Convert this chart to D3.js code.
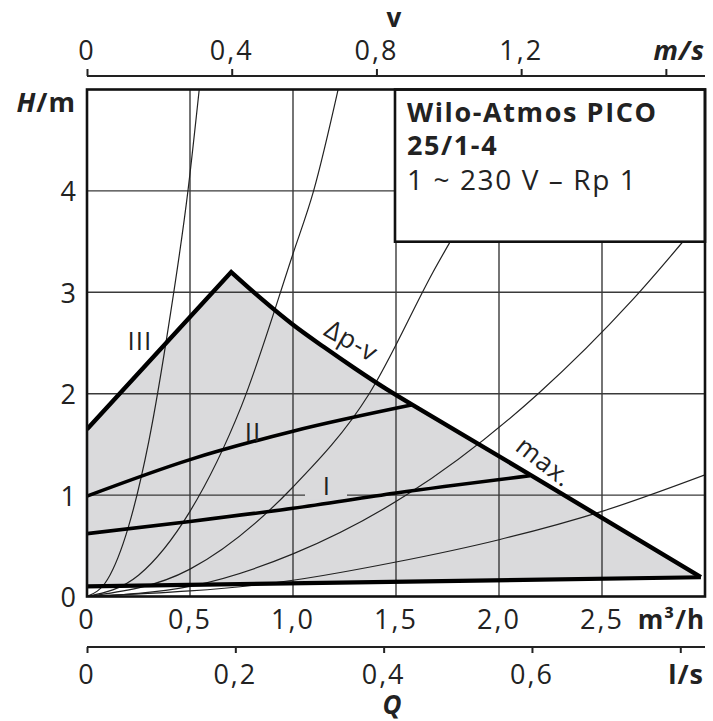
<!DOCTYPE html>
<html><head><meta charset="utf-8">
<script src="https://cdn.jsdelivr.net/npm/d3@7"></script>
<style>
html,body{margin:0;padding:0;background:#fff;}
svg{display:block;}
text{font-family:"Open Sans",sans-serif;fill:#222;}
</style></head>
<body>
<svg id="chart" width="713" height="721"></svg>
<script>
// ---------- data ----------
// flow Q in m³/h, head H in m
const qTicks = [0, 0.5, 1, 1.5, 2, 2.5];
const qTickLabels = ["0", "0,5", "1,0", "1,5", "2,0", "2,5"];
const hTicks = [0, 1, 2, 3, 4];
const hTickLabels = ["0", "1", "2", "3", "4"];
const vTicks = [0, 0.4, 0.8, 1.2, 1.6];          // m/s
const vTickLabels = ["0", "0,4", "0,8", "1,2", ""];
const lsTicks = [0, 0.2, 0.4, 0.6, 0.8];         // l/s
const lsTickLabels = ["0", "0,2", "0,4", "0,6", ""];
const qMax = 3, hMax = 5;
const vMaxAtQ = 2.81;            // m³/h corresponding to 1.6 m/s on the top scale
const lsToM3h = 3.6;

// thick operating curves
const curveIII   = [[0, 1.65], [0.70, 3.20]];
const curveDpv   = [[0.70, 3.20], [0.85, 2.93], [1.0, 2.68], [1.15, 2.46], [1.3, 2.25], [1.45, 2.05], [1.58, 1.89]];
const curveMax   = [[1.58, 1.89], [2.16, 1.19], [2.98, 0.19]];
const curveII    = [[0, 0.99], [0.5, 1.35], [1.0, 1.63], [1.58, 1.89]];
const curveI     = [[0, 0.62], [0.5, 0.74], [1.0, 0.87], [1.5, 1.02], [2.15, 1.19]];
const curveMin   = [[0, 0.10], [2.98, 0.19]];

// thin system curves
const sysA = [[0, 0], [0.1, 0.17], [0.2, 0.68], [0.3, 1.53], [0.4, 2.72], [0.49, 4.0], [0.55, 5.1]];
const sysB = [[0, 0], [0.25, 0.21], [0.5, 0.84], [0.75, 1.88], [1.0, 3.38], [1.1, 4.0], [1.23, 5.1]];
const sysC = [[0, 0], [0.5, 0.27], [1.0, 1.08], [1.37, 2.0], [1.68, 3.2], [1.9, 4.0], [2.15, 5.1]];
const sysD = [[0, 0], [0.5, 0.1], [1.0, 0.42], [1.55, 1.0], [2.19, 2.0], [2.65, 2.93], [3.0, 3.76]];
const sysE = [[0, 0], [1.0, 0.16], [1.5, 0.34], [2.0, 0.56], [2.5, 0.84], [3.0, 1.2]];
const systemCurves = [sysA, sysB, sysC, sysD, sysE];

const titleLines = ["Wilo-Atmos PICO", "25/1-4", "1 ~ 230 V – Rp 1"];

// ---------- layout ----------
const L = 87, R = 705, T = 89.5, B = 596.5;
const svg = d3.select("#chart");
const x = d3.scaleLinear().domain([0, qMax]).range([L, R]);
const y = d3.scaleLinear().domain([0, hMax]).range([B, T]);
const xv = d3.scaleLinear().domain([0, 1.6]).range([L, x(vMaxAtQ)]);
const xl = d3.scaleLinear().domain([0, 0.8]).range([L, x(0.8 * lsToM3h)]);

const line = d3.line().x(d => x(d[0])).y(d => y(d[1]));
const smooth = d3.line().x(d => x(d[0])).y(d => y(d[1])).curve(d3.curveMonotoneX);
const cont = s => "L" + s.slice(1);   // continue a path instead of moving
const pt = d => `${x(d[0])},${y(d[1])}`;

svg.append("defs").append("clipPath").attr("id", "plotclip")
  .append("rect").attr("x", L).attr("y", T).attr("width", R - L).attr("height", B - T);

const plot = svg.append("g").attr("clip-path", "url(#plotclip)");

// outline III -> Δp-v -> max (sharp corners)
const outline = line(curveIII) + cont(smooth(curveDpv)) + cont(line(curveMax));

// grey operating area (closed along the minimum line)
plot.append("path")
  .attr("d", "M" + pt(curveMin[0]) + cont(outline) + "L" + pt(curveMin[1]) + "Z")
  .attr("fill", "#dadadc");

// grid
plot.append("g").selectAll("line").data(qTicks.slice(1)).join("line")
  .attr("x1", d => x(d)).attr("x2", d => x(d)).attr("y1", T).attr("y2", B)
  .attr("stroke", "#3a3a3a").attr("stroke-width", 1.4);
plot.append("g").selectAll("line").data(hTicks.slice(1)).join("line")
  .attr("y1", d => y(d)).attr("y2", d => y(d)).attr("x1", L).attr("x2", R)
  .attr("stroke", "#3a3a3a").attr("stroke-width", 1.4);
// gap in grid line around label "I"
plot.append("rect").attr("x", 305).attr("y", y(1) - 4).attr("width", 42).attr("height", 8).attr("fill", "#dadadc");

// system curves
plot.append("g").selectAll("path").data(systemCurves).join("path")
  .attr("d", d => smooth(d)).attr("fill", "none").attr("stroke", "#222").attr("stroke-width", 1.2);

// thick curves
const thick = plot.append("g").attr("fill", "none").attr("stroke", "#000");
thick.append("path").attr("d", smooth(curveII)).attr("stroke-width", 3.6);
thick.append("path").attr("d", smooth(curveI)).attr("stroke-width", 3.6);
thick.append("path").attr("d", line(curveMin)).attr("stroke-width", 4.2);
thick.append("path").attr("d", outline + "L" + pt(curveMin[1]))
  .attr("stroke-width", 4.4).attr("stroke-linejoin", "miter").attr("stroke-miterlimit", 10);

// curve labels
const lab = svg.append("g").style("font-size", "26px").style("letter-spacing", "1px");
lab.append("text").attr("x", 140).attr("y", 340).attr("text-anchor", "middle").attr("dominant-baseline", "central").text("III");
lab.append("text").attr("x", 253).attr("y", 431).attr("text-anchor", "middle").attr("dominant-baseline", "central").text("II");
lab.append("text").attr("x", 327).attr("y", 485).attr("text-anchor", "middle").attr("dominant-baseline", "central").text("I");
lab.append("text").attr("transform", "translate(352,340) rotate(30)").attr("text-anchor", "middle").attr("dominant-baseline", "central").text("Δp-v");
lab.append("text").attr("transform", "translate(545,461) rotate(38)").attr("text-anchor", "middle").attr("dominant-baseline", "central").text("max.");

// legend box
const box = svg.append("g");
box.append("rect").attr("x", 395).attr("y", T).attr("width", R - 395).attr("height", 241.7 - T)
  .attr("fill", "#fff").attr("stroke", "#111").attr("stroke-width", 2.6);
box.selectAll("text").data(titleLines).join("text")
  .attr("x", 407).attr("y", (d, i) => [122, 155, 190][i])
  .style("font-size", (d, i) => i < 2 ? "27px" : "28px")
  .style("letter-spacing", "1.6px")
  .style("font-weight", (d, i) => i < 2 ? 700 : 400)
  .text(d => d);

// plot frame
svg.append("rect").attr("x", L).attr("y", T).attr("width", R - L).attr("height", B - T)
  .attr("fill", "none").attr("stroke", "#111").attr("stroke-width", 2.6);

// ---------- axes ----------
const tickFont = "27px", tickSpace = "2px";
// left H labels
svg.append("g").selectAll("text").data(hTicks).join("text")
  .attr("x", 76).attr("y", d => y(d)).attr("text-anchor", "end").attr("dominant-baseline", "central")
  .style("font-size", tickFont).text((d, i) => hTickLabels[i]);
const hm = svg.append("text").attr("x", 76).attr("y", 112).attr("text-anchor", "end")
  .style("font-size", "27px").style("font-weight", 700).style("letter-spacing", "1px");
hm.append("tspan").style("font-style", "italic").text("H");
hm.append("tspan").text("/m");

// bottom Q m³/h labels
svg.append("g").selectAll("text").data(qTicks).join("text")
  .attr("x", d => x(d)).attr("y", 629).attr("text-anchor", "middle")
  .style("font-size", tickFont).style("letter-spacing", tickSpace).text((d, i) => qTickLabels[i]);
svg.append("text").attr("x", 705).attr("y", 629).attr("text-anchor", "end")
  .style("font-size", "26px").style("font-weight", 700).style("letter-spacing", "1px").text("m³/h");

// l/s axis
const axLs = svg.append("g").attr("transform", "translate(0,647)")
  .call(d3.axisBottom(xl).tickValues(lsTicks).tickSize(6).tickSizeOuter(0).tickFormat(""));
axLs.select(".domain").attr("d", `M${L},0H${R}`).attr("stroke", "#222").attr("stroke-width", 2.2);
axLs.selectAll(".tick line").attr("stroke", "#222").attr("stroke-width", 2);
svg.append("g").selectAll("text").data(lsTicks).join("text")
  .attr("x", d => xl(d)).attr("y", 684).attr("text-anchor", "middle")
  .style("font-size", tickFont).style("letter-spacing", tickSpace).text((d, i) => lsTickLabels[i]);
svg.append("text").attr("x", 704).attr("y", 684).attr("text-anchor", "end")
  .style("font-size", "27px").style("font-weight", 700).style("letter-spacing", "1px").text("l/s");
svg.append("text").attr("x", 392).attr("y", 714).attr("text-anchor", "middle")
  .style("font-size", "26px").style("font-weight", 700).style("font-style", "italic").text("Q");

// top v axis
const axV = svg.append("g").attr("transform", "translate(0,76)")
  .call(d3.axisTop(xv).tickValues(vTicks).tickSize(7).tickSizeOuter(0).tickFormat(""));
axV.select(".domain").attr("d", `M${L},0H${R}`).attr("stroke", "#222").attr("stroke-width", 2.2);
axV.selectAll(".tick line").attr("stroke", "#222").attr("stroke-width", 2);
svg.append("g").selectAll("text").data(vTicks).join("text")
  .attr("x", d => xv(d)).attr("y", 60).attr("text-anchor", "middle")
  .style("font-size", tickFont).style("letter-spacing", tickSpace).text((d, i) => vTickLabels[i]);
svg.append("text").attr("x", 705).attr("y", 60).attr("text-anchor", "end")
  .style("font-size", "27px").style("font-weight", 700).style("font-style", "italic").style("letter-spacing", "1px").text("m/s");
svg.append("text").attr("x", 394).attr("y", 27).attr("text-anchor", "middle")
  .style("font-size", "26px").style("font-weight", 700).text("v");
</script>
</body></html>
